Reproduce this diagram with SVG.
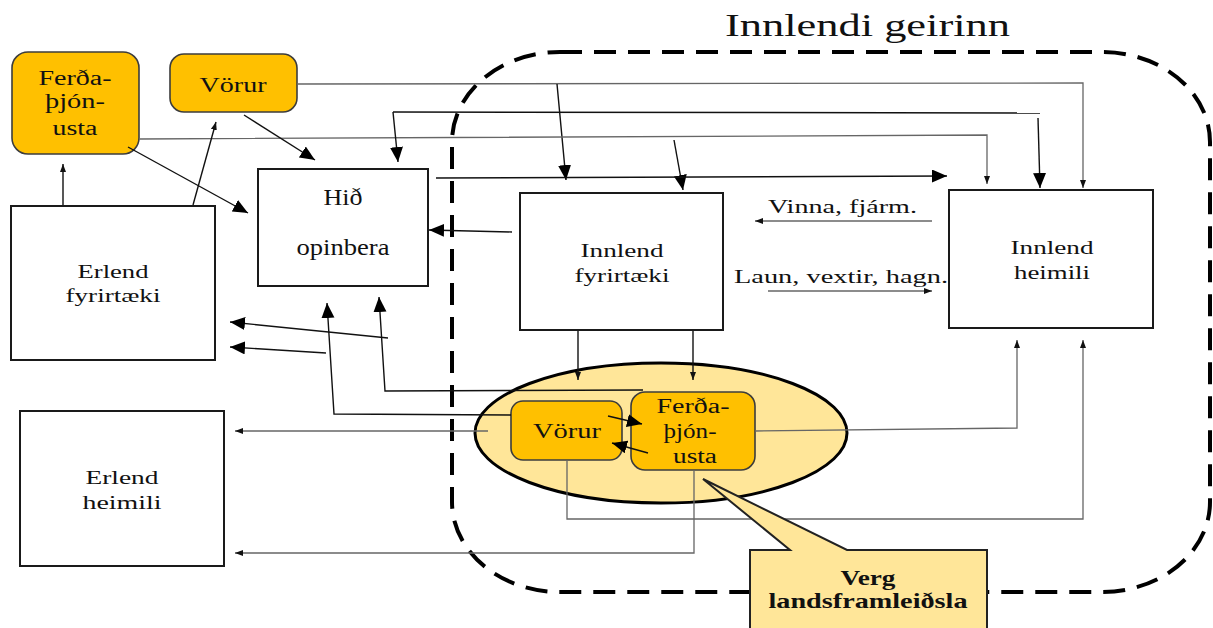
<svg xmlns="http://www.w3.org/2000/svg" width="1213" height="628" viewBox="0 0 1213 628">
<defs>
<style>
text{font-family:"Liberation Serif","Times New Roman",serif;fill:#111;}
.box{fill:#fff;stroke:#1a1a1a;stroke-width:2;}
.org{fill:#FFC000;stroke:#3c3c3c;stroke-width:1.6;}
.thin{fill:none;stroke:#666;stroke-width:1.3;}
.blk{fill:none;stroke:#111;stroke-width:1.4;}
.big{marker-end:url(#ab);}
.sm{marker-end:url(#as);}
.t20{font-size:20px;}
.t19{font-size:19px;}
</style>
<marker id="ab" markerUnits="userSpaceOnUse" markerWidth="16" markerHeight="14" refX="15" refY="6.5" orient="auto"><path d="M0,0 L15,6.5 L0,13 z" fill="#000"/></marker>
<marker id="as" markerUnits="userSpaceOnUse" markerWidth="9" markerHeight="7" refX="8" refY="3" orient="auto"><path d="M0,0 L8,3 L0,6 z" fill="#111"/></marker>
</defs>
<rect width="1213" height="628" fill="#fff"/>

<g id="innlendi-geirinn">
<rect x="452" y="52" width="758" height="540" rx="108" ry="90" fill="none" stroke="#000" stroke-width="4" stroke-dasharray="22 12"/>
<text x="725" y="36" font-size="32" textLength="285" lengthAdjust="spacingAndGlyphs">Innlendi geirinn</text>
</g>

<g id="landsframleidsla-ellipse">
<ellipse cx="661" cy="433" rx="186" ry="70" fill="#FFE699" stroke="#000" stroke-width="3"/>
</g>

<g id="ferdathjonusta-erlend">
<rect class="org" x="12" y="52" width="127" height="102" rx="16"/>
<text class="t20" x="75" y="85" text-anchor="middle" textLength="73" lengthAdjust="spacingAndGlyphs">Ferða-</text>
<text class="t20" x="75" y="108" text-anchor="middle" textLength="60" lengthAdjust="spacingAndGlyphs">þjón-</text>
<text class="t20" x="75" y="135" text-anchor="middle" textLength="45" lengthAdjust="spacingAndGlyphs">usta</text>
</g>

<g id="vorur-erlend">
<rect class="org" x="170" y="54" width="127" height="58" rx="14"/>
<text x="233" y="92" font-size="21" text-anchor="middle" textLength="67" lengthAdjust="spacingAndGlyphs">Vörur</text>
</g>

<g id="hid-opinbera">
<rect class="box" x="258" y="169" width="170" height="117"/>
<text x="343" y="205" font-size="24" text-anchor="middle" textLength="39" lengthAdjust="spacingAndGlyphs">Hið</text>
<text x="343" y="255" font-size="24" text-anchor="middle" textLength="93" lengthAdjust="spacingAndGlyphs">opinbera</text>
</g>

<g id="innlend-fyrirtaeki">
<rect class="box" x="520" y="193" width="203" height="137"/>
<text class="t19" x="622" y="257" text-anchor="middle" textLength="83" lengthAdjust="spacingAndGlyphs">Innlend</text>
<text class="t19" x="622" y="282" text-anchor="middle" textLength="95" lengthAdjust="spacingAndGlyphs">fyrirtæki</text>
</g>

<g id="innlend-heimili">
<rect class="box" x="949" y="190" width="204" height="138"/>
<text class="t19" x="1052" y="254" text-anchor="middle" textLength="83" lengthAdjust="spacingAndGlyphs">Innlend</text>
<text class="t19" x="1052" y="279" text-anchor="middle" textLength="76" lengthAdjust="spacingAndGlyphs">heimili</text>
</g>

<g id="erlend-fyrirtaeki">
<rect class="box" x="11" y="206" width="204" height="154"/>
<text class="t19" x="113" y="278" text-anchor="middle" textLength="71" lengthAdjust="spacingAndGlyphs">Erlend</text>
<text class="t19" x="113" y="302" text-anchor="middle" textLength="95" lengthAdjust="spacingAndGlyphs">fyrirtæki</text>
</g>

<g id="erlend-heimili">
<rect class="box" x="20" y="411" width="204" height="155"/>
<text class="t19" x="122" y="484" text-anchor="middle" textLength="73" lengthAdjust="spacingAndGlyphs">Erlend</text>
<text class="t19" x="122" y="509" text-anchor="middle" textLength="79" lengthAdjust="spacingAndGlyphs">heimili</text>
</g>

<g id="vorur-innlend">
<rect class="org" x="511" y="401" width="111" height="59" rx="12"/>
<text x="567" y="438" font-size="21" text-anchor="middle" textLength="68" lengthAdjust="spacingAndGlyphs">Vörur</text>
</g>

<g id="ferdathjonusta-innlend">
<rect class="org" x="631" y="392" width="124" height="78" rx="14"/>
<text class="t20" x="693" y="413" text-anchor="middle" textLength="73" lengthAdjust="spacingAndGlyphs">Ferða-</text>
<text class="t20" x="690" y="438" text-anchor="middle" textLength="53" lengthAdjust="spacingAndGlyphs">þjón-</text>
<text class="t20" x="695" y="463" text-anchor="middle" textLength="44" lengthAdjust="spacingAndGlyphs">usta</text>
</g>

<g id="connectors">
<path class="thin sm" d="M297,84 L1083,83 L1083,188"/>
<path class="blk big" d="M557,84 L566,180"/>
<path class="thin sm" d="M139,139 L987,135 L987,184"/>
<path class="blk big" d="M674,140 L683,190"/>
<path class="blk" d="M393,112 L1040,113"/>
<path class="blk big" d="M393,112 L398,162"/>
<path class="blk big" d="M1038,118 L1040,188"/>
<path class="blk big" stroke-width="1.6" d="M436,178 L947,176"/>
<path class="blk big" d="M512,232 L429,230"/>
<path class="blk big" d="M244,115 L315,160"/>
<path class="blk big" stroke-width="1" d="M128,147 L248,213"/>
<path class="blk sm" stroke-width="1" d="M63,205 L63,164"/>
<path class="blk sm" stroke-width="1" d="M193,205 L216,122"/>
<path class="blk big" d="M388,338 L230,322"/>
<path class="blk big" d="M326,353 L230,347"/>
<path class="blk big" d="M511,415 L334,414 L327,303"/>
<path class="blk big" d="M643,390 L385,391 L379,297"/>
<path class="blk sm" stroke-width="1" d="M578,331 L578,380"/>
<path class="blk sm" stroke-width="1" d="M693,331 L693,380"/>
<path class="blk big" d="M608,416 L642,424"/>
<path class="blk big" d="M648,453 L612,443"/>
<path class="thin sm" d="M488,431 L235,431"/>
<path class="thin sm" d="M694,470 L694,553 L235,553"/>
<path class="thin sm" d="M567,460 L567,519 L1083,519 L1083,340"/>
<path class="thin sm" d="M755,431 L1017,428 L1017,340"/>
<path class="thin sm" d="M932,221 L755,221"/>
<path class="thin sm" d="M768,291 L932,291"/>
<text class="t19" x="768" y="213" textLength="149" lengthAdjust="spacingAndGlyphs">Vinna, fjárm.</text>
<text class="t19" x="734" y="283" textLength="214" lengthAdjust="spacingAndGlyphs">Laun, vextir, hagn.</text>
</g>

<g id="verg-landsframleidsla">
<path d="M750,550 L790,550 L703,479 L847,550 L987,550 L987,632 L750,632 Z" fill="#FFE699" stroke="#222" stroke-width="2"/>
<text x="868" y="585" font-size="22" font-weight="bold" text-anchor="middle" textLength="55" lengthAdjust="spacingAndGlyphs">Verg</text>
<text x="868" y="608" font-size="22" font-weight="bold" text-anchor="middle" textLength="199" lengthAdjust="spacingAndGlyphs">landsframleiðsla</text>
</g>
</svg>
